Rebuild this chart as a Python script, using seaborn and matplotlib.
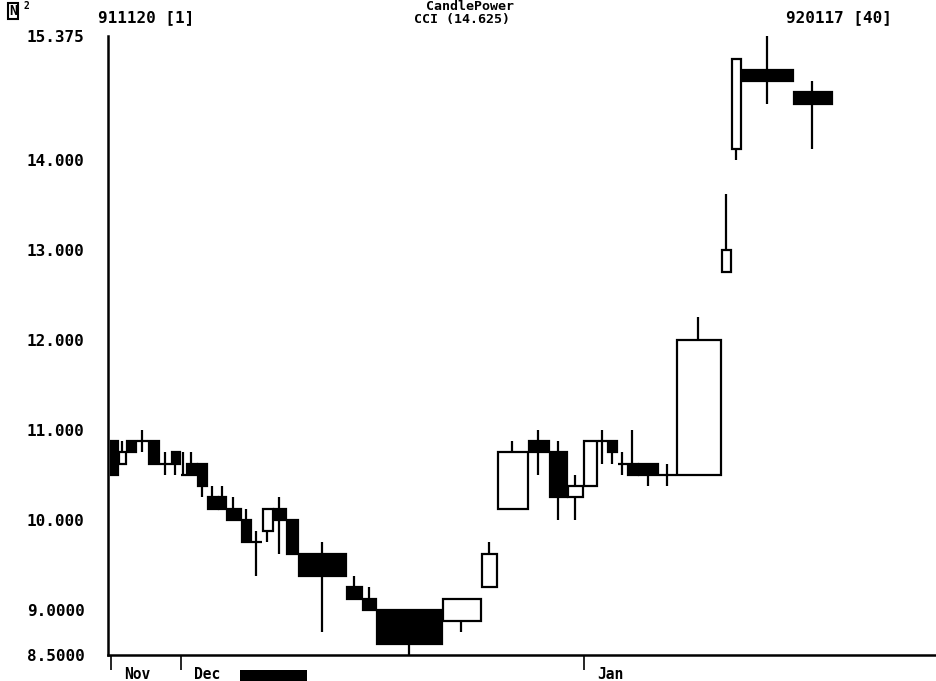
import numpy as np
import matplotlib
matplotlib.use('Agg')
import matplotlib.pyplot as plt
from matplotlib.patches import Rectangle
import seaborn as sns

# CandlePower (equivolume candles) for CCI, 911120 - 920117
volume = [8, 8, 10, 12, 11, 12, 9, 6, 11, 10, 11, 8, 15, 10, 11, 11, 13, 12, 48, 16,
          14, 66, 39, 16, 31, 21, 18, 16, 14, 10, 10, 10, 11, 20, 18, 45, 10, 10, 52, 39]
open_ = [10.875, 10.625, 10.875, 10.875, 10.875, 10.625, 10.75, 10.5, 10.625, 10.625,
         10.25, 10.25, 10.125, 10.0, 9.75, 9.875, 10.125, 10.0, 9.625, 9.25,
         9.125, 9.0, 8.875, 9.25, 10.125, 10.875, 10.75, 10.25, 10.375, 10.875,
         10.875, 10.625, 10.625, 10.625, 10.5, 10.5, 12.75, 14.125, 15.0, 14.75]
high = [10.875, 10.875, 10.875, 11.0, 10.875, 10.75, 10.75, 10.75, 10.75, 10.625,
        10.375, 10.375, 10.25, 10.125, 9.875, 10.125, 10.25, 10.0, 9.75, 9.375,
        9.25, 9.0, 9.125, 9.75, 10.875, 11.0, 10.875, 10.5, 10.875, 11.0,
        10.875, 10.75, 11.0, 10.625, 10.625, 12.25, 13.625, 15.125, 15.375, 14.875]
low = [10.5, 10.625, 10.75, 10.75, 10.625, 10.5, 10.5, 10.5, 10.5, 10.25,
       10.125, 10.125, 10.0, 9.75, 9.375, 9.75, 9.625, 9.625, 8.75, 9.125,
       9.0, 8.5, 8.75, 9.25, 10.125, 10.5, 10.0, 10.0, 10.375, 10.625,
       10.625, 10.5, 10.5, 10.375, 10.375, 10.5, 12.75, 14.0, 14.625, 14.125]
close = [10.5, 10.75, 10.75, 10.875, 10.625, 10.625, 10.625, 10.5, 10.5, 10.375,
         10.125, 10.125, 10.0, 9.75, 9.75, 10.125, 10.0, 9.625, 9.375, 9.125,
         9.0, 8.625, 9.125, 9.625, 10.75, 10.75, 10.25, 10.375, 10.875, 10.875,
         10.75, 10.625, 10.5, 10.5, 10.5, 12.0, 13.0, 15.125, 14.875, 14.625]

month_labels = ['Nov', 'Dec', 'Jan']
month_start = [0, 7, 28]  # candle index of first session in month

y_ticks = [8.5, 9.0, 10.0, 11.0, 12.0, 13.0, 14.0, 15.375]
y_ticklabels = ['8.5000', '9.0000', '10.000', '11.000', '12.000', '13.000', '14.000', '15.375']

sns.set_theme(style='white')
plt.rcParams['font.family'] = ['DejaVu Sans Mono', 'DejaVu Sans']
plt.rcParams['text.color'] = 'black'
plt.rcParams['ytick.color'] = 'black'
plt.rcParams['xtick.color'] = 'black'

vol = np.array(volume, dtype=float)
left = np.concatenate([[0], np.cumsum(vol)[:-1]])
o = np.array(open_)
c = np.array(close)
h = np.array(high)
l = np.array(low)
mid = left + vol / 2

fig = plt.figure(figsize=(9.37, 6.81), dpi=100)
ax = fig.add_axes([108 / 937, 1 - 655 / 681, 1 - 108 / 937, 619 / 681])

# wicks
ax.vlines(mid, l, h, color='black', linewidth=1.6, zorder=1)

# bodies
up = c > o
down = c < o
flat = c == o
ax.bar(left[up] + 1.5, (c - o)[up], bottom=o[up], width=vol[up] - 1.5, align='edge',
       facecolor='white', edgecolor='black', linewidth=1.6, zorder=2)
ax.bar(left[down] + 1.5, (o - c)[down], bottom=c[down], width=vol[down] - 1.5, align='edge',
       facecolor='black', edgecolor='black', linewidth=1.6, zorder=2)
ax.hlines(o[flat], left[flat] + 1, left[flat] + vol[flat], color='black', linewidth=1.6, zorder=2)

ax.set_xlim(-2, 827)
ax.set_ylim(8.5, 15.375)
ax.set_yticks(y_ticks)
ax.set_yticklabels(y_ticklabels, fontsize=11.5, fontweight='bold', color='black')
ax.tick_params(axis='y', length=0, pad=17)

ax.set_xticks(left[month_start] + 1)
ax.set_xticklabels([])
ax.tick_params(axis='x', direction='out', length=11, width=1.2, color='black', bottom=True)
for idx, name in zip(month_start, month_labels):
    ax.text(left[idx] + 14, -0.02, name, transform=ax.get_xaxis_transform(),
            ha='left', va='top', fontsize=10.5, fontweight='bold', color='black')

sns.despine(ax=ax, top=True, right=True)
for side in ['left', 'bottom']:
    ax.spines[side].set_color('black')
    ax.spines[side].set_linewidth(1.8)

# header
fig.text(98 / 937, 1 - 18 / 681, '911120 [1]', ha='left', va='center',
         fontsize=11.5, fontweight='bold', color='black')
fig.text(892 / 937, 1 - 18 / 681, '920117 [40]', ha='right', va='center',
         fontsize=11.5, fontweight='bold', color='black')
fig.text(470 / 937, 1 - 6 / 681, 'CandlePower', ha='center', va='center',
         fontsize=9.5, fontweight='bold', color='black')
fig.text(462 / 937, 1 - 19 / 681, 'CCI (14.625)', ha='center', va='center',
         fontsize=9.5, fontweight='bold', color='black')
fig.text(9 / 937, 1 - 11 / 681, 'N', ha='left', va='center', fontsize=10, fontweight='bold',
         color='black',
         bbox=dict(boxstyle='square,pad=0.08', facecolor='white', edgecolor='black', linewidth=1.5))
fig.text(24 / 937, 1 - 6 / 681, '2', ha='left', va='center', fontsize=7, fontweight='bold',
         color='black')

# indicator bar under the axis
fig.patches.append(Rectangle((240 / 937, 0), 67 / 937, 11 / 681, transform=fig.transFigure,
                             facecolor='black', edgecolor='none'))

fig.savefig('out.png', dpi=100, facecolor='white')
